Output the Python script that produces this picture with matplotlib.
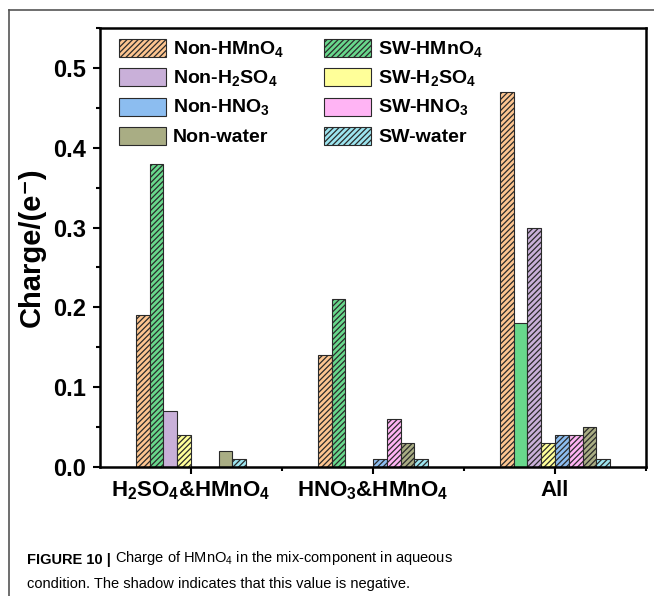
import numpy as np
import matplotlib.pyplot as plt
from matplotlib.patches import Patch
from matplotlib.lines import Line2D
from matplotlib.ticker import MultipleLocator, FixedLocator

plt.rcParams['font.family'] = ['Liberation Sans', 'DejaVu Sans']
plt.rcParams['mathtext.fontset'] = 'custom'
plt.rcParams['mathtext.rm'] = 'Liberation Sans'
plt.rcParams['mathtext.bf'] = 'Liberation Sans:bold'
plt.rcParams['hatch.linewidth'] = 0.9

groups = [r'H$_\mathbf{2}$SO$_\mathbf{4}$&HMnO$_\mathbf{4}$',
          r'HNO$_\mathbf{3}$&HMnO$_\mathbf{4}$',
          'All']

series = [r'Non-HMnO$_\mathbf{4}$', r'SW-HMnO$_\mathbf{4}$',
          r'Non-H$_\mathbf{2}$SO$_\mathbf{4}$', r'SW-H$_\mathbf{2}$SO$_\mathbf{4}$',
          r'Non-HNO$_\mathbf{3}$', r'SW-HNO$_\mathbf{3}$',
          'Non-water', 'SW-water']

# signed charges; negative values get the hatch shadow
non_hmno4 = [-0.19, -0.14, -0.47]
sw_hmno4 = [-0.38, -0.21, 0.18]
non_h2so4 = [0.07, 0.0, -0.30]
sw_h2so4 = [-0.04, 0.0, -0.03]
non_hno3 = [0.0, -0.01, -0.04]
sw_hno3 = [0.0, -0.06, -0.04]
non_water = [0.02, -0.03, -0.05]
sw_water = [-0.01, -0.01, -0.01]

charges = [non_hmno4, sw_hmno4, non_h2so4, sw_h2so4,
           non_hno3, sw_hno3, non_water, sw_water]

colors = ['#FDC590', '#68D88C', '#C9B0D9', '#FFFF99',
          '#8CBDF0', '#FFB4F4', '#A9AD84', '#9DE5EF']
legend_hatched = [True, True, False, False, False, False, False, True]

fig = plt.figure(figsize=(6.54, 5.96), dpi=100)
ax = fig.add_axes([100/654, 1 - 467/596, 546/654, 439/596])

x = np.arange(len(groups))
w = 0.076
edge = '#2a2a2a'
for i, (vals, c) in enumerate(zip(charges, colors)):
    for j, v in enumerate(vals):
        if v == 0:
            continue
        ax.bar(x[j] + (i - 3.5) * w, abs(v), width=w, color=c,
               edgecolor=edge, linewidth=0.8,
               hatch='//////' if v < 0 else None)

ax.set_xlim(-0.5, 2.5)
ax.set_ylim(0, 0.55)
ax.set_xticks(x)
ax.set_xticklabels(groups, fontsize=16, fontweight='bold')
ax.xaxis.set_minor_locator(FixedLocator([0.5, 1.5, 2.5]))
ax.yaxis.set_minor_locator(MultipleLocator(0.05))
ax.set_yticks(np.arange(0, 0.51, 0.1))
ax.set_yticklabels([f'{t:.1f}' for t in np.arange(0, 0.51, 0.1)],
                   fontsize=17, fontweight='bold')
ax.tick_params(which='major', direction='out', length=5, width=1.5)
ax.tick_params(which='minor', direction='out', length=3, width=1.5)
ax.tick_params(axis='x', which='major', pad=4)
ax.tick_params(axis='y', which='major', pad=5)
for s in ax.spines.values():
    s.set_linewidth(1.8)

ax.set_ylabel('Charge/(e\u207b)', fontsize=21, fontweight='bold',
              labelpad=5)

handles = [Patch(facecolor=c, edgecolor=edge, linewidth=0.8,
                 hatch='//////' if h else None)
           for c, h in zip(colors, legend_hatched)]
order = [0, 2, 4, 6, 1, 3, 5, 7]
ax.legend([handles[k] for k in order], [series[k] for k in order],
          ncol=2, loc='upper left', bbox_to_anchor=(0.02, 0.992),
          frameon=False, prop={'size': 14, 'weight': 'bold'},
          handlelength=2.45, handleheight=1.05, labelspacing=0.42,
          columnspacing=2.0, handletextpad=0.35, borderaxespad=0)

# page frame
fig.add_artist(Line2D([9/654, 1], [1 - 10/596, 1 - 10/596],
                      color='#555555', linewidth=1.2))
fig.add_artist(Line2D([9/654, 9/654], [0, 1 - 10/596],
                      color='#555555', linewidth=1.2))

cap_font = ['Liberation Sans', 'DejaVu Sans']
t1 = fig.text(27/654, 1 - 564/596, 'FIGURE 10 |', fontsize=10.5,
              fontweight='bold', family=cap_font, va='baseline')
ax.annotate(r' Charge of HMnO$_\mathrm{4}$ in the mix-component in aqueous',
            xy=(1, 0), xycoords=t1, va='bottom', fontsize=10.5,
            family=cap_font, annotation_clip=False)
fig.text(27/654, 1 - 588/596,
         'condition. The shadow indicates that this value is negative.',
         fontsize=10.5, family=cap_font, va='baseline')

fig.savefig('out.png', dpi=100)
